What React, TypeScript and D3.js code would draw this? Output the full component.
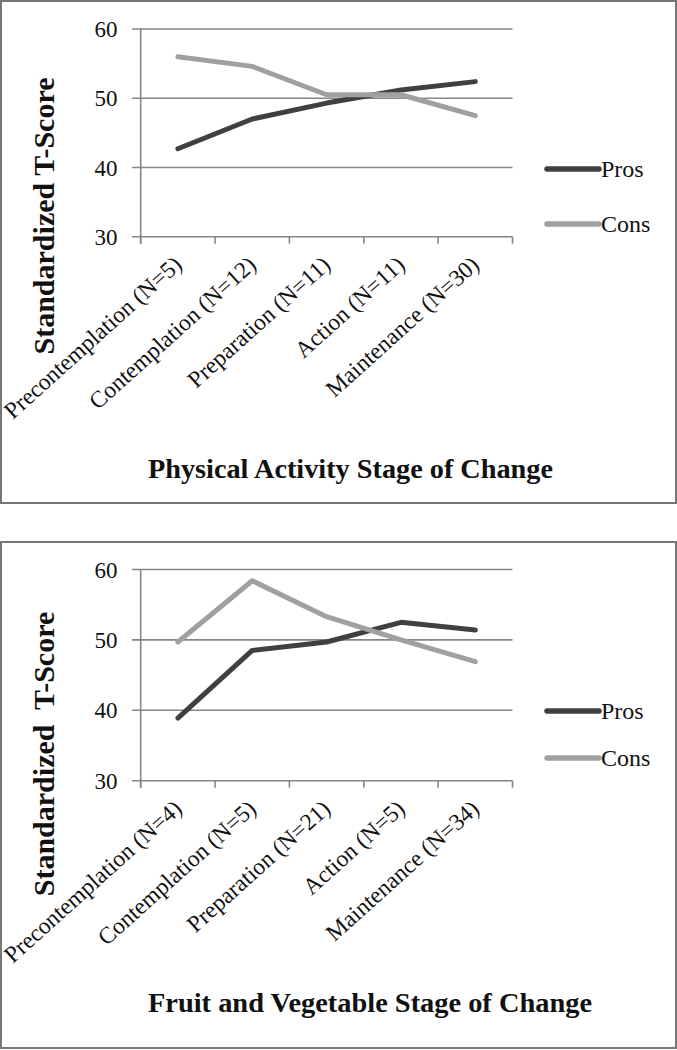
import React from "react";
import * as d3 from "d3";

const categoriesPA = [
  "Precontemplation (N=5)",
  "Contemplation (N=12)",
  "Preparation (N=11)",
  "Action (N=11)",
  "Maintenance (N=30)",
];
const prosPA = [42.7, 47.0, 49.3, 51.2, 52.4];
const consPA = [56.0, 54.6, 50.5, 50.5, 47.5];

const categoriesFV = [
  "Precontemplation (N=4)",
  "Contemplation (N=5)",
  "Preparation (N=21)",
  "Action (N=5)",
  "Maintenance (N=34)",
];
const prosFV = [38.9, 48.5, 49.7, 52.5, 51.4];
const consFV = [49.7, 58.4, 53.3, 50.0, 46.9];

const yTicks = [30, 40, 50, 60];
const seriesNames = ["Pros", "Cons"];
const seriesColors = ["#404040", "#a0a0a0"];

const SERIF = "'Liberation Serif', 'Times New Roman', serif";

type PanelProps = {
  top: number;
  bottom: number;
  plotTop: number;
  plotBottom: number;
  categories: string[];
  pros: number[];
  cons: number[];
  yTitle: string;
  xTitle: string;
  xTitleY: number;
  xTitleLen: number;
  yTitleCenter: number;
  legendY: [number, number];
};

function Panel(p: PanelProps) {
  const x = d3.scaleBand<string>().domain(p.categories).range([140.7, 512.5]).padding(0);
  const y = d3.scaleLinear().domain([30, 60]).range([p.plotBottom, p.plotTop]);
  const line = d3
    .line<number>()
    .x((_, i) => (x(p.categories[i]) as number) + x.bandwidth() / 2)
    .y((d) => y(d));
  const series = [p.pros, p.cons];
  const edges = [...p.categories.map((c) => x(c) as number), x.range()[1]];
  const gridColor = "#858585";
  return (
    <g>
      <rect x={1} y={p.top} width={675} height={p.bottom - p.top} fill="none" stroke="#777" strokeWidth={2} />
      {yTicks.map((t) => (
        <g key={t}>
          <line x1={132} x2={512.5} y1={y(t)} y2={y(t)} stroke={gridColor} strokeWidth={1.6} />
          <text x={117.5} y={y(t)} dy="0.35em" textAnchor="end" fontFamily={SERIF} fontSize={23} fill="#111">
            {t}
          </text>
        </g>
      ))}
      <line x1={140.7} x2={140.7} y1={y(60)} y2={y(30) + 7} stroke={gridColor} strokeWidth={1.6} />
      {edges.map((e, i) => (
        <line key={i} x1={e} x2={e} y1={y(30)} y2={y(30) + 7} stroke={gridColor} strokeWidth={1.6} />
      ))}
      {p.categories.map((c) => {
        const cx = (x(c) as number) + x.bandwidth() / 2;
        const cy = y(30) + 24;
        return (
          <text
            key={c}
            x={cx}
            y={cy}
            transform={`rotate(-42 ${cx} ${cy})`}
            textAnchor="end"
            dominantBaseline="central"
            fontFamily={SERIF}
            fontSize={23.5}
            fill="#111"
          >
            {c}
          </text>
        );
      })}
      {series.map((s, i) => (
        <path
          key={i}
          d={line(s) as string}
          fill="none"
          stroke={seriesColors[i]}
          strokeWidth={5}
          strokeLinejoin="round"
          strokeLinecap="round"
        />
      ))}
      {seriesNames.map((n, i) => (
        <g key={n}>
          <line x1={547} x2={599} y1={p.legendY[i]} y2={p.legendY[i]} stroke={seriesColors[i]} strokeWidth={5.5} strokeLinecap="round" />
          <text x={601} y={p.legendY[i]} dy="0.35em" fontFamily={SERIF} fontSize={24} fill="#111">
            {n}
          </text>
        </g>
      ))}
      <text
        x={54}
        y={p.yTitleCenter}
        transform={`rotate(-90 54 ${p.yTitleCenter})`}
        textAnchor="middle"
        fontFamily={SERIF}
        fontWeight="bold"
        fontSize={30}
        fill="#111"
        style={{ whiteSpace: "pre" }}
      >
        {p.yTitle}
      </text>
      <text
        x={148}
        y={p.xTitleY}
        fontFamily={SERIF}
        fontWeight="bold"
        fontSize={27}
        fill="#111"
        textLength={p.xTitleLen}
        lengthAdjust="spacingAndGlyphs"
      >
        {p.xTitle}
      </text>
    </g>
  );
}

export default function App() {
  return (
    <svg
      width={677}
      height={1050}
      style={{ position: "absolute", left: 0, top: 0, background: "#fff" }}
    >
      <rect x={0} y={0} width={677} height={1050} fill="#fff" />
      <Panel
        top={1}
        bottom={503}
        plotTop={29}
        plotBottom={236.7}
        categories={categoriesPA}
        pros={prosPA}
        cons={consPA}
        yTitle="Standardized T-Score"
        xTitle="Physical Activity Stage of Change"
        xTitleY={478}
        xTitleLen={405}
        yTitleCenter={216}
        legendY={[169, 224]}
      />
      <Panel
        top={542}
        bottom={1048}
        plotTop={569.5}
        plotBottom={780.7}
        categories={categoriesFV}
        pros={prosFV}
        cons={consFV}
        yTitle={"Standardized  T-Score"}
        xTitle="Fruit and Vegetable Stage of Change"
        xTitleY={1012}
        xTitleLen={444}
        yTitleCenter={754}
        legendY={[711, 758]}
      />
    </svg>
  );
}
